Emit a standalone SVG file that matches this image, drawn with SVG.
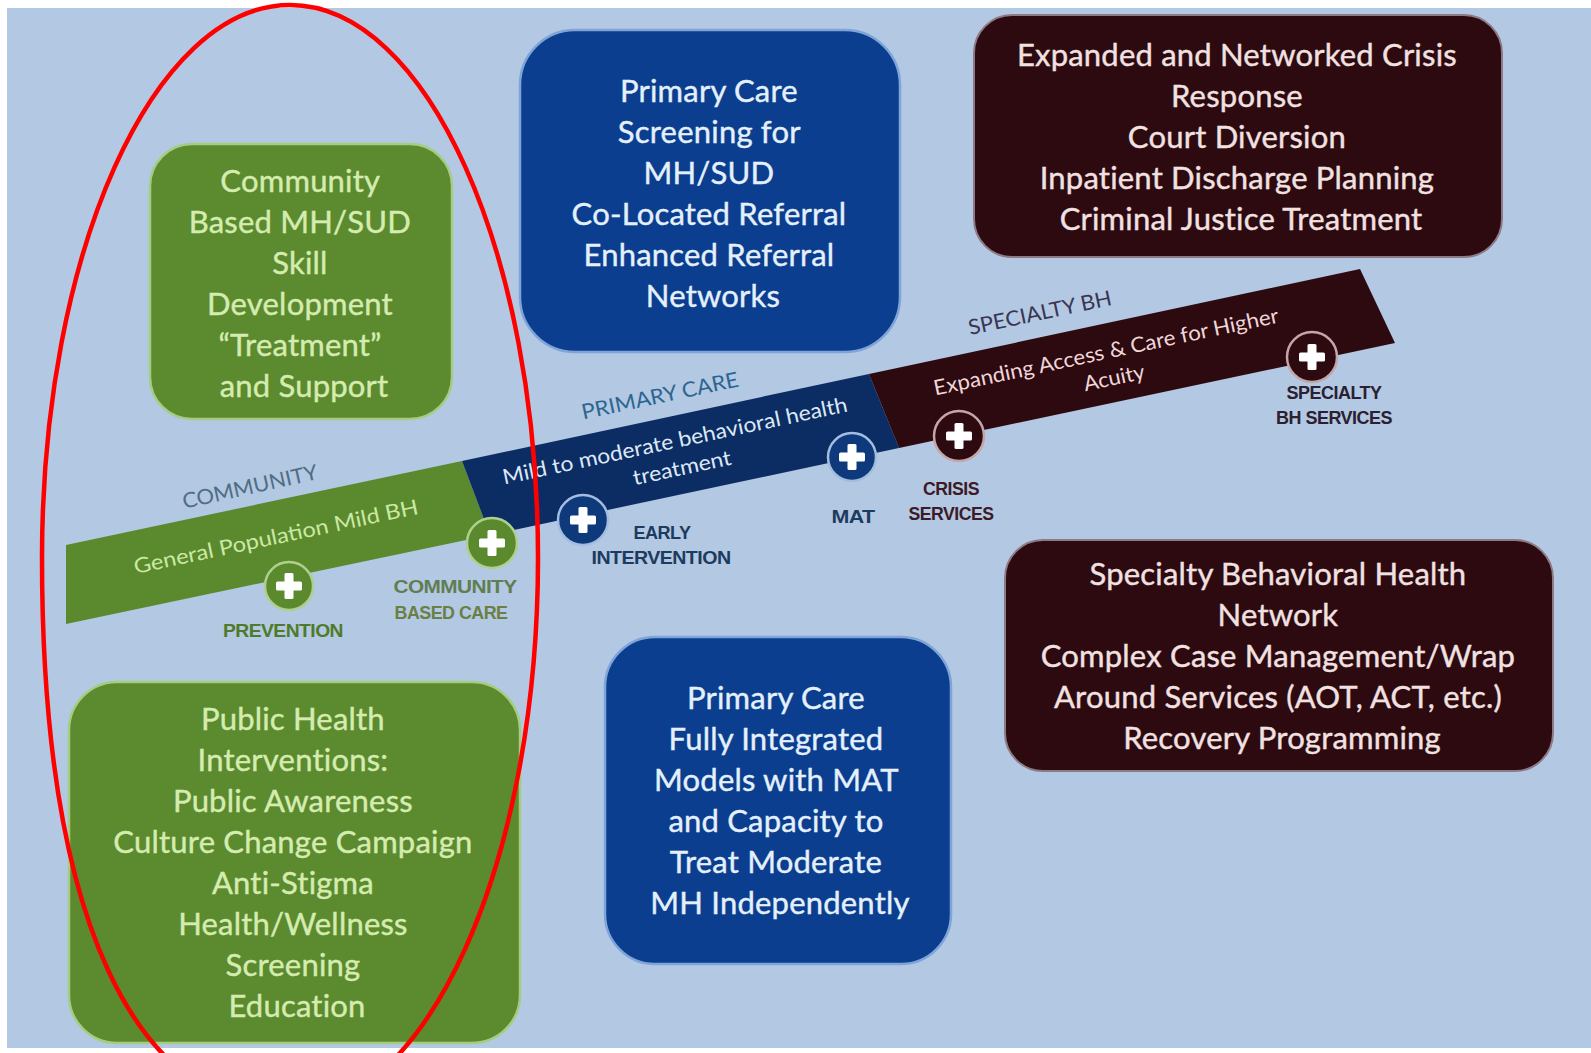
<svg xmlns="http://www.w3.org/2000/svg" width="1591" height="1053" viewBox="0 0 1591 1053">
  <defs>
    <style>
      .box-text { font-family: Lato, "Open Sans", "Liberation Sans", sans-serif; font-size: 31px; letter-spacing: 0.2px; text-anchor: middle; stroke-width: 0.4px; }
      .green-text { fill: #d5ecb0; stroke: #d5ecb0; }
      .blue-text { fill: #e4f0fb; stroke: #e4f0fb; }
      .dark-text { fill: #f2e1e1; stroke: #f2e1e1; }
      .band-text { font-family: Lato, "Open Sans", "Liberation Sans", sans-serif; font-size: 21px; text-anchor: middle; }
      .tier { font-family: Lato, "Open Sans", "Liberation Sans", sans-serif; font-size: 21px; text-anchor: middle; }
      .svc { font-family: "Liberation Sans", Arial, sans-serif; font-weight: bold; font-size: 18px; text-anchor: middle; letter-spacing: -0.5px; }
      .green-box { fill: #5c8a2f; stroke: #a6cc82; stroke-width: 2.5; }
      .blue-box { fill: #0b3e8e; stroke: #7fa4d8; stroke-width: 2.5; }
      .dark-box { fill: #2c0a10; stroke: #8d7a86; stroke-width: 2; }
      .plus { fill: #ffffff; }
    </style>
    <!-- white plus sign centred on the origin -->
    <g id="plus-sign">
      <rect class="plus" x="-13" y="-4.5" width="26" height="9" rx="1.5"/>
      <rect class="plus" x="-4.5" y="-13" width="9" height="26" rx="1.5"/>
    </g>
  </defs>

  <!-- page and panel background -->
  <rect x="0" y="0" width="1591" height="1053" fill="#ffffff"/>
  <rect x="7" y="8" width="1584" height="1040" fill="#b3c8e3"/>

  <!-- continuum band -->
  <g id="band">
    <polygon id="band-community" points="66,545 462,461 490,535 66,624" fill="#5b8a2e"/>
    <polygon id="band-primary" points="462,461 869,374 899,448 490,535" fill="#0c2d63"/>
    <polygon id="band-specialty" points="869,374 1360,269 1395,343 899,448" fill="#2d0910"/>

    <text class="tier" fill="#4f6e82" transform="translate(250,487) rotate(-12.5)" y="7" textLength="138" lengthAdjust="spacingAndGlyphs">COMMUNITY</text>
    <text class="tier" fill="#2c6690" transform="translate(660,396) rotate(-12)" y="7" textLength="160" lengthAdjust="spacingAndGlyphs">PRIMARY CARE</text>
    <text class="tier" fill="#3a3552" transform="translate(1040,313) rotate(-12)" y="7" textLength="146" lengthAdjust="spacingAndGlyphs">SPECIALTY BH</text>

    <text class="band-text" fill="#cbe8a4" transform="translate(276,537) rotate(-12)" y="7" textLength="290" lengthAdjust="spacingAndGlyphs">General Population Mild BH</text>
    <text class="band-text" fill="#dce8f6" transform="translate(675,441) rotate(-12)" y="7" textLength="352" lengthAdjust="spacingAndGlyphs">Mild to moderate behavioral health</text>
    <text class="band-text" fill="#dce8f6" transform="translate(682,468) rotate(-12)" y="7" textLength="100" lengthAdjust="spacingAndGlyphs">treatment</text>
    <text class="band-text" fill="#f0d6d8" transform="translate(1106,352) rotate(-12)" y="7" textLength="352" lengthAdjust="spacingAndGlyphs">Expanding Access &amp; Care for Higher</text>
    <text class="band-text" fill="#f0d6d8" transform="translate(1114,378) rotate(-12)" y="7" textLength="62" lengthAdjust="spacingAndGlyphs">Acuity</text>
  </g>

  <!-- service points along the band -->
  <g id="svc-prevention">
    <circle cx="289" cy="586" r="24" fill="#5b8a2e" stroke="#aed08c" stroke-width="2.5"/>
    <use href="#plus-sign" x="289" y="586"/>
    <text class="svc" fill="#4f7a2a" x="283" y="637" textLength="120" lengthAdjust="spacingAndGlyphs">PREVENTION</text>
  </g>
  <g id="svc-community-care">
    <circle cx="492" cy="543" r="25" fill="#5b8a2e" stroke="#aed08c" stroke-width="2.5"/>
    <use href="#plus-sign" x="492" y="543"/>
    <text class="svc" fill="#617d52" x="455" y="593" textLength="123" lengthAdjust="spacingAndGlyphs">COMMUNITY</text>
    <text class="svc" fill="#6a7f43" x="451" y="619" textLength="113" lengthAdjust="spacingAndGlyphs">BASED CARE</text>
  </g>
  <g id="svc-early-intervention">
    <circle cx="583" cy="520" r="25" fill="#0e3a7c" stroke="#a3bde0" stroke-width="2.5"/>
    <use href="#plus-sign" x="583" y="520"/>
    <text class="svc" fill="#1c3b5e" x="662" y="539" textLength="57" lengthAdjust="spacingAndGlyphs">EARLY</text>
    <text class="svc" fill="#1c3b5e" x="661" y="564" textLength="139" lengthAdjust="spacingAndGlyphs">INTERVENTION</text>
  </g>
  <g id="svc-mat">
    <circle cx="852" cy="457" r="24" fill="#0e3a7c" stroke="#a3bde0" stroke-width="2.5"/>
    <use href="#plus-sign" x="852" y="457"/>
    <text class="svc" fill="#1c3b5e" x="853" y="523" textLength="43" lengthAdjust="spacingAndGlyphs">MAT</text>
  </g>
  <g id="svc-crisis">
    <circle cx="959" cy="436" r="25" fill="#2d0910" stroke="#c4a5a8" stroke-width="2.5"/>
    <use href="#plus-sign" x="959" y="436"/>
    <text class="svc" fill="#3d1a26" x="951" y="495" textLength="56" lengthAdjust="spacingAndGlyphs">CRISIS</text>
    <text class="svc" fill="#3d1a26" x="951" y="520" textLength="85" lengthAdjust="spacingAndGlyphs">SERVICES</text>
  </g>
  <g id="svc-specialty">
    <circle cx="1312" cy="357" r="25" fill="#2d0910" stroke="#c4a5a8" stroke-width="2.5"/>
    <use href="#plus-sign" x="1312" y="357"/>
    <text class="svc" fill="#2a2030" x="1334" y="399" textLength="95" lengthAdjust="spacingAndGlyphs">SPECIALTY</text>
    <text class="svc" fill="#2a2030" x="1334" y="424" textLength="116" lengthAdjust="spacingAndGlyphs">BH SERVICES</text>
  </g>

  <!-- tier boxes -->
  <g id="box-community-support">
    <rect class="green-box" x="150" y="144" width="302" height="275" rx="42"/>
    <text class="box-text green-text">
      <tspan x="304" y="192">Community</tspan>
      <tspan x="304" y="233">Based MH/SUD</tspan>
      <tspan x="304" y="274">Skill</tspan>
      <tspan x="304" y="315">Development</tspan>
      <tspan x="304" y="356">“Treatment”</tspan>
      <tspan x="304" y="397">and Support</tspan>
    </text>
  </g>

  <g id="box-public-health">
    <rect class="green-box" x="69" y="682" width="451" height="361" rx="48"/>
    <text class="box-text green-text">
      <tspan x="297" y="730">Public Health</tspan>
      <tspan x="297" y="771">Interventions:</tspan>
      <tspan x="297" y="812">Public Awareness</tspan>
      <tspan x="297" y="853">Culture Change Campaign</tspan>
      <tspan x="297" y="894">Anti-Stigma</tspan>
      <tspan x="297" y="935">Health/Wellness</tspan>
      <tspan x="297" y="976">Screening</tspan>
      <tspan x="297" y="1017">Education</tspan>
    </text>
  </g>

  <g id="box-primary-screening">
    <rect class="blue-box" x="520" y="30" width="380" height="322" rx="55"/>
    <text class="box-text blue-text">
      <tspan x="713" y="102">Primary Care</tspan>
      <tspan x="713" y="143">Screening for</tspan>
      <tspan x="713" y="184">MH/SUD</tspan>
      <tspan x="713" y="225">Co-Located Referral</tspan>
      <tspan x="713" y="266">Enhanced Referral</tspan>
      <tspan x="713" y="307">Networks</tspan>
    </text>
  </g>

  <g id="box-primary-integrated">
    <rect class="blue-box" x="605" y="637" width="346" height="327" rx="50"/>
    <text class="box-text blue-text">
      <tspan x="780" y="709">Primary Care</tspan>
      <tspan x="780" y="750">Fully Integrated</tspan>
      <tspan x="780" y="791">Models with MAT</tspan>
      <tspan x="780" y="832">and Capacity to</tspan>
      <tspan x="780" y="873">Treat Moderate</tspan>
      <tspan x="780" y="914">MH Independently</tspan>
    </text>
  </g>

  <g id="box-crisis-response">
    <rect class="dark-box" x="974" y="15" width="528" height="242" rx="38"/>
    <text class="box-text dark-text">
      <tspan x="1241" y="66">Expanded and Networked Crisis</tspan>
      <tspan x="1241" y="107">Response</tspan>
      <tspan x="1241" y="148">Court Diversion</tspan>
      <tspan x="1241" y="189">Inpatient Discharge Planning</tspan>
      <tspan x="1241" y="230">Criminal Justice Treatment</tspan>
    </text>
  </g>

  <g id="box-specialty-network">
    <rect class="dark-box" x="1005" y="540" width="548" height="231" rx="38"/>
    <text class="box-text dark-text">
      <tspan x="1282" y="585">Specialty Behavioral Health</tspan>
      <tspan x="1282" y="626">Network</tspan>
      <tspan x="1282" y="667">Complex Case Management/Wrap</tspan>
      <tspan x="1282" y="708">Around Services (AOT, ACT, etc.)</tspan>
      <tspan x="1282" y="749">Recovery Programming</tspan>
    </text>
  </g>

  <!-- red highlight ring around the community tier (hand-drawn oval, fuller at lower left) -->
  <path id="community-highlight" d="M 290,5 C 427,5 538,253 538,558 C 538,863 427,1110 290,1110 C 135,1110 42,920 42,558 C 42,253 153,5 290,5 Z" fill="none" stroke="#ff0000" stroke-width="4.5"/>
</svg>
